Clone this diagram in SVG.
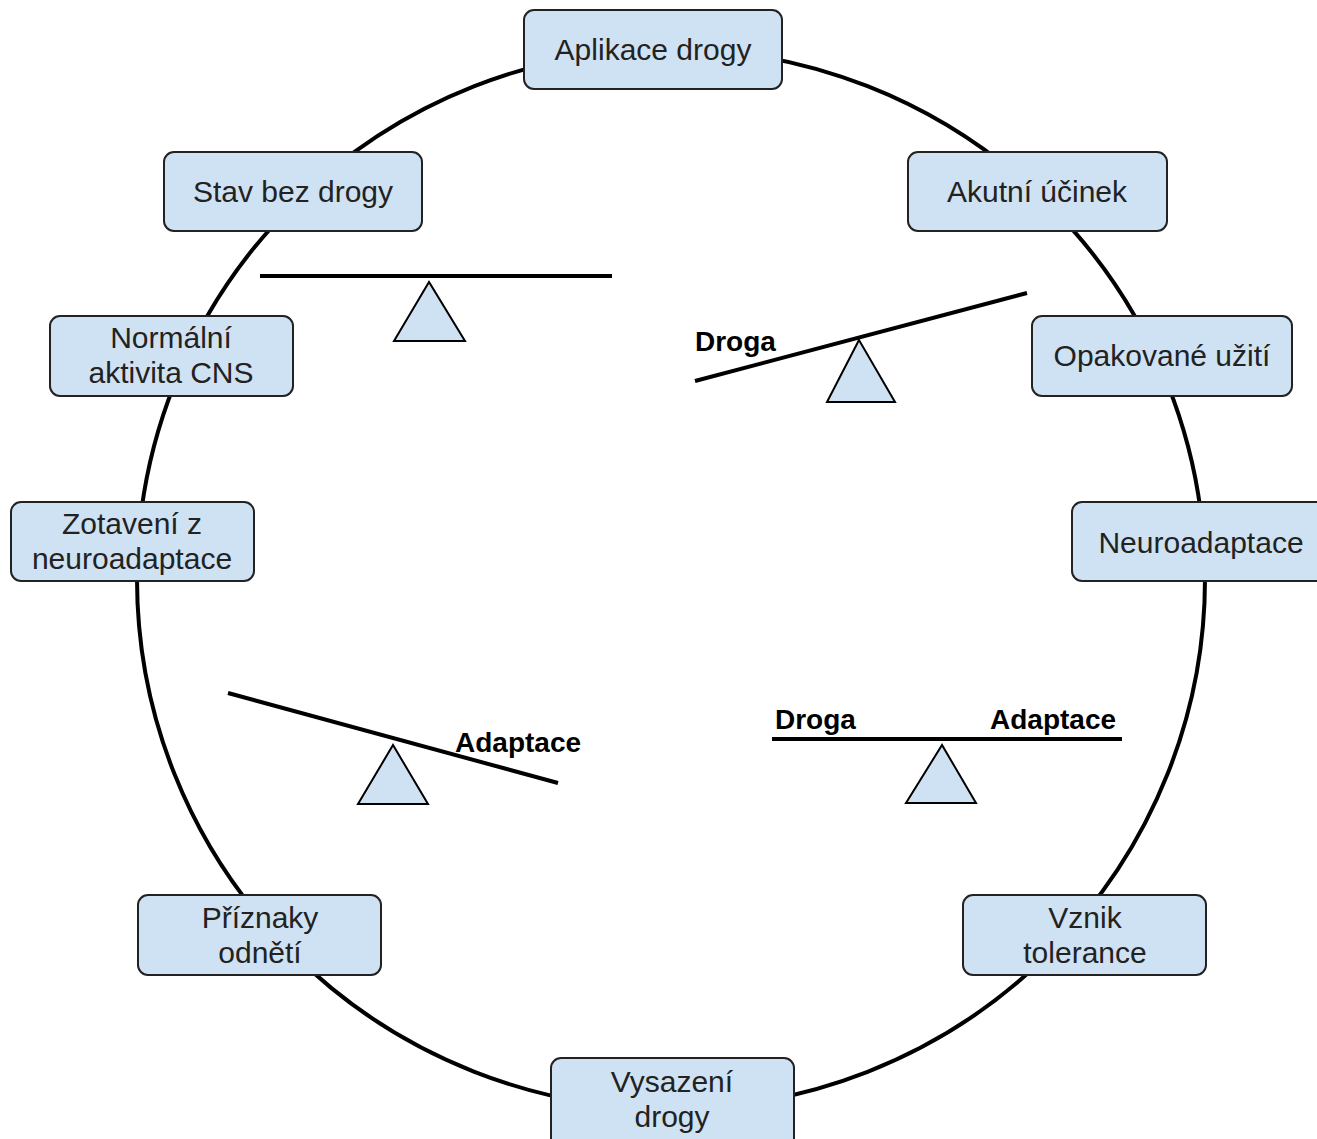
<svg xmlns="http://www.w3.org/2000/svg" width="1317" height="1139" viewBox="0 0 1317 1139">
<style>
.box{fill:#cfe2f3;stroke:#222;stroke-width:2}
.t{font-family:"Liberation Sans",Arial,sans-serif;font-size:30px;fill:#222;text-anchor:middle}
.b{font-family:"Liberation Sans",Arial,sans-serif;font-size:28px;font-weight:bold;fill:#000}
.beam{stroke:#000;stroke-width:4;fill:none}
.tri{fill:#cfe2f3;stroke:#000;stroke-width:2}
</style>
<rect width="1317" height="1139" fill="#fff"/>
<g id="connectors">
<ellipse cx="671" cy="579" rx="534" ry="530" fill="none" stroke="#000" stroke-width="4"/>
</g>
<g id="seesaw1">
<line class="beam" x1="260" y1="276" x2="612" y2="276"/>
<polygon class="tri" points="429,282 394,341 465,341"/>
</g>
<g id="seesaw2">
<line class="beam" x1="695" y1="381" x2="1027" y2="293"/>
<polygon class="tri" points="859,340 827,402 895,402"/>
<text class="b" x="695" y="351">Droga</text>
</g>
<g id="seesaw3">
<line class="beam" x1="228" y1="693" x2="558" y2="783"/>
<polygon class="tri" points="393,745 358,804 428,804"/>
<text class="b" x="455" y="752" font-size="29">Adaptace</text>
</g>
<g id="seesaw4">
<line class="beam" x1="772" y1="739" x2="1122" y2="739"/>
<polygon class="tri" points="942,745 906,803 976,803"/>
<text class="b" x="775" y="729">Droga</text>
<text class="b" x="990" y="729" font-size="29">Adaptace</text>
</g>
<g id="n1"><rect class="box" x="524" y="10" width="258" height="79" rx="10"/><text class="t" x="653" y="60">Aplikace drogy</text></g>
<g id="n2"><rect class="box" x="908" y="152" width="259" height="79" rx="10"/><text class="t" x="1037" y="202">Akutní účinek</text></g>
<g id="n3"><rect class="box" x="1032" y="316" width="260" height="80" rx="10"/><text class="t" x="1162" y="366">Opakované užití</text></g>
<g id="n4"><rect class="box" x="1072" y="502" width="260" height="79" rx="10"/><text class="t" x="1201" y="553">Neuroadaptace</text></g>
<g id="n5"><rect class="box" x="963" y="895" width="243" height="80" rx="10"/><text class="t" x="1085" y="928">Vznik</text><text class="t" x="1085" y="963">tolerance</text></g>
<g id="n6"><rect class="box" x="551" y="1058" width="243" height="90" rx="10"/><text class="t" x="672" y="1092">Vysazení</text><text class="t" x="672" y="1127">drogy</text></g>
<g id="n7"><rect class="box" x="138" y="895" width="243" height="80" rx="10"/><text class="t" x="260" y="928">Příznaky</text><text class="t" x="260" y="963">odnětí</text></g>
<g id="n8"><rect class="box" x="11" y="502" width="243" height="79" rx="10"/><text class="t" x="132" y="534">Zotavení z</text><text class="t" x="132" y="569">neuroadaptace</text></g>
<g id="n9"><rect class="box" x="50" y="316" width="243" height="80" rx="10"/><text class="t" x="171" y="348">Normální</text><text class="t" x="171" y="383">aktivita CNS</text></g>
<g id="n10"><rect class="box" x="164" y="152" width="258" height="79" rx="10"/><text class="t" x="293" y="202">Stav bez drogy</text></g>
</svg>
